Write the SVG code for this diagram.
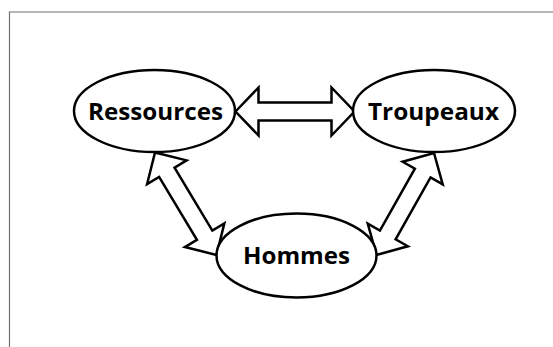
<svg xmlns="http://www.w3.org/2000/svg" width="553" height="347" viewBox="0 0 553 347">
  <style>
    .node ellipse { fill: #ffffff; stroke: #000000; stroke-width: 2.5; }
    .node text { font-family: "Open Sans", "Liberation Sans", sans-serif; font-weight: bold; font-size: 23.5px; fill: #000000; text-anchor: middle; }
    .arrow { fill: #ffffff; stroke: #000000; stroke-width: 2.5; stroke-linejoin: miter; }
    .frame { fill: none; stroke: #6f6f6f; stroke-width: 1.2; }
  </style>
  <rect x="0" y="0" width="553" height="347" fill="#ffffff"/>
  <path class="frame" d="M9.5,347 L9.5,12 L553,12"/>
  <g id="connectors">
    <polygon class="arrow" transform="translate(235.5,111.5)" points="0,0 23,-24 23,-9 96,-9 96,-24 119,0 96,24 96,9 23,9 23,24"/>
    <polygon class="arrow" transform="translate(155,152.5) rotate(59.04)" points="0,0 23,-23 23,-9 96.5,-9 96.5,-23 119.5,0 96.5,23 96.5,9 23,9 23,23"/>
    <polygon class="arrow" transform="translate(434,153) rotate(119.42)" points="0,0 23,-23 23,-9 94.1,-9 94.1,-23 117.1,0 94.1,23 94.1,9 23,9 23,23"/>
  </g>
  <g id="node-ressources" class="node">
    <ellipse cx="154.5" cy="111" rx="80.5" ry="41"/>
    <text x="155.5" y="120" textLength="135" lengthAdjust="spacingAndGlyphs">Ressources</text>
  </g>
  <g id="node-troupeaux" class="node">
    <ellipse cx="434" cy="111" rx="81" ry="41"/>
    <text x="433.5" y="120" textLength="131" lengthAdjust="spacingAndGlyphs">Troupeaux</text>
  </g>
  <g id="node-hommes" class="node">
    <ellipse cx="296.5" cy="255.5" rx="80" ry="42"/>
    <text x="296.5" y="263.5" textLength="107" lengthAdjust="spacingAndGlyphs">Hommes</text>
  </g>
</svg>
